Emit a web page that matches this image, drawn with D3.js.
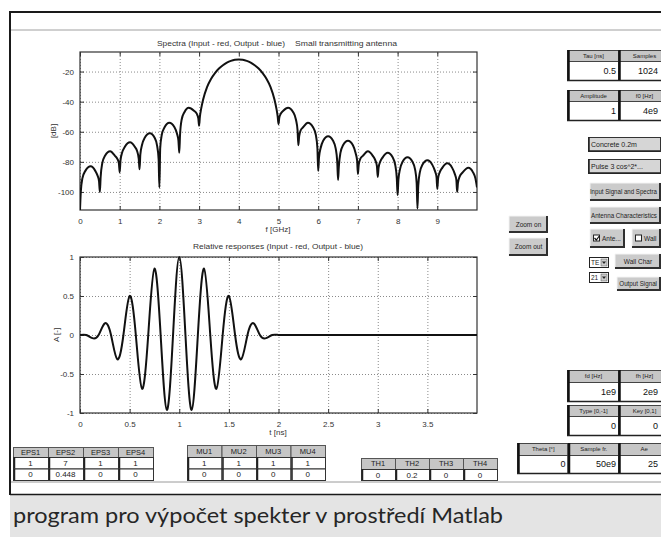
<!DOCTYPE html>
<html><head><meta charset="utf-8">
<script src="https://cdn.jsdelivr.net/npm/d3@7"></script>
<style>
html,body{margin:0;padding:0;background:#fff;}
svg{display:block;}
</style></head><body>
<svg id="c" width="661" height="537" font-family="'Liberation Sans', Arial, sans-serif"></svg>
<script>
// ---------- data ----------
const specTicksX = [0,1,2,3,4,5,6,7,8,9];
const specTicksY = [-100,-80,-60,-40,-20];
const spectrum = [
[0.00,-112],[0.02,-100],[0.06,-91],[0.135,-86],[0.27,-83],[0.385,-86],[0.44,-89],[0.48,-93],[0.50,-100],
[0.52,-90],[0.56,-81],[0.63,-76],[0.76,-73],[0.88,-76],[0.94,-78],[0.98,-81],[1.00,-87],
[1.02,-79],[1.06,-74],[1.13,-70],[1.26,-67],[1.38,-70],[1.44,-73],[1.48,-78],[1.50,-85],
[1.52,-75],[1.56,-69],[1.63,-64],[1.76,-61],[1.88,-64],[1.94,-69],[1.98,-78],[2.00,-97],
[2.02,-71],[2.06,-62],[2.13,-57],[2.25,-54],[2.38,-57],[2.44,-61],[2.48,-66],[2.50,-74],
[2.52,-62],[2.56,-52],[2.63,-47],[2.74,-44],[2.87,-46],[2.94,-48],[2.98,-51],[3.00,-56],
[3.02,-50],[3.05,-45],[3.10,-38.7],[3.20,-30.3],[3.30,-24.9],[3.40,-21],[3.50,-18],[3.60,-15.8],[3.70,-14.1],[3.80,-12.9],[3.90,-12.2],[4.00,-12],
[4.10,-12.2],[4.20,-12.9],[4.30,-14.1],[4.40,-15.8],[4.50,-18],[4.60,-21],[4.70,-24.9],[4.80,-30.3],[4.90,-38.7],[4.95,-45],[4.98,-50],[5.00,-55],
[5.02,-50.6],[5.06,-47.9],[5.12,-46],[5.24,-44],[5.37,-47],[5.44,-52],[5.48,-59],[5.50,-69],
[5.52,-63],[5.56,-59],[5.62,-57],[5.74,-54],[5.87,-57],[5.94,-62],[5.98,-71],[6.00,-86],
[6.02,-77],[6.06,-71],[6.125,-66],[6.25,-63],[6.375,-66],[6.44,-71],[6.48,-80],[6.50,-92],
[6.52,-83],[6.56,-74],[6.625,-69],[6.75,-66],[6.875,-69],[6.94,-74],[6.98,-79],[7.00,-88],
[7.02,-82],[7.06,-78],[7.125,-76],[7.25,-73],[7.375,-76],[7.44,-79],[7.48,-83],[7.50,-90],
[7.52,-84],[7.56,-80],[7.625,-77],[7.75,-74],[7.875,-77],[7.94,-82],[7.98,-91],[8.00,-102],
[8.02,-92],[8.06,-85],[8.125,-80],[8.25,-77],[8.375,-80],[8.44,-85],[8.48,-94],[8.50,-111],
[8.52,-96],[8.56,-87],[8.625,-82],[8.75,-79],[8.875,-82],[8.94,-86],[8.98,-90],[9.00,-98],
[9.02,-91],[9.06,-87],[9.125,-84],[9.25,-81],[9.375,-84],[9.44,-88],[9.48,-92],[9.50,-100],
[9.52,-94],[9.56,-90],[9.64,-87],[9.78,-84],[9.90,-87],[9.96,-91],[10.00,-97]
];
const respTicksX = [0,0.5,1,1.5,2,2.5,3,3.5];
const respTicksY = [-1,-0.5,0,0.5,1];
const response = [
[0,0],[0.0625,0],[0.125,-0.04],[0.1875,0],[0.25,0.15],[0.3125,0],[0.375,-0.31],[0.4375,0],
[0.5,0.5],[0.5625,0],[0.625,-0.69],[0.6875,0],[0.75,0.85],[0.8125,0],[0.875,-0.96],[0.9375,0],
[1.0,1.0],[1.0625,0],[1.125,-0.96],[1.1875,0],[1.25,0.85],[1.3125,0],[1.375,-0.69],[1.4375,0],
[1.5,0.5],[1.5625,0],[1.625,-0.31],[1.6875,0],[1.75,0.15],[1.8125,0],[1.875,-0.04],[1.9375,0],
[2.0,0],[2.0625,0],[2.125,0],[2.25,0],[2.5,0],[3.0,0],[3.5,0],[4.0,0]
];
// UI texts / values
const topGroup1Labels = ["Tau [ns]","Samples"];   const topGroup1Values = ["0.5","1024"];
const topGroup2Labels = ["Amplitude","f0 [Hz]"];  const topGroup2Values = ["1","4e9"];
const midGroup1Labels = ["fd [Hz]","fh [Hz]"];    const midGroup1Values = ["1e9","2e9"];
const midGroup2Labels = ["Type [0,-1]","Key [0,1]"]; const midGroup2Values = ["0","0"];
const botGroupLabels = ["Theta [°]","Sample fr.","Ae"]; const botGroupValues = ["0","50e9","25"];
const epsHeaders = ["EPS1","EPS2","EPS3","EPS4"]; const epsRow1 = ["1","7","1","1"]; const epsRow2 = ["0","0.448","0","0"];
const muHeaders = ["MU1","MU2","MU3","MU4"]; const muRow1 = ["1","1","1","1"]; const muRow2 = ["0","0","0","0"];
const thHeaders = ["TH1","TH2","TH3","TH4"]; const thRow1 = ["0","0.2","0","0"];
const caption = "program pro výpočet spekter v prostředí Matlab";

// ---------- drawing ----------
const svg = d3.select("#c");
const DARK = "#1a1a1a";
const EDGE = 660; // right limit of the picture

// keep a text inside [left, limit]
function fitIn(t, limit){
  const n = t.node(), bb = n.getBBox();
  if (bb.x + bb.width > limit) {
    const anchor = t.attr("text-anchor") || "start";
    if (anchor === "middle") { t.attr("text-anchor","start").attr("x", bb.x); }
    if (anchor === "end") { t.attr("x", limit); }
    else t.attr("textLength", Math.max(4, limit - bb.x)).attr("lengthAdjust","spacingAndGlyphs");
  }
  return t;
}

// window frame
svg.append("rect").attr("x",10).attr("y",495).attr("width",651).attr("height",42).attr("fill","#e4e4e4");
svg.append("line").attr("x1",10).attr("x2",661).attr("y1",12).attr("y2",12).attr("stroke",DARK).attr("stroke-width",2);
svg.append("line").attr("x1",10).attr("x2",10).attr("y1",11).attr("y2",495).attr("stroke",DARK).attr("stroke-width",2);
svg.append("line").attr("x1",10).attr("x2",661).attr("y1",494.5).attr("y2",494.5).attr("stroke",DARK).attr("stroke-width",1.5);
svg.append("line").attr("x1",11).attr("x2",661).attr("y1",30).attr("y2",30).attr("stroke","#a0a0a0").attr("stroke-width",1);
svg.append("line").attr("x1",11).attr("x2",661).attr("y1",482).attr("y2",482).attr("stroke","#9a9a9a").attr("stroke-width",1);
svg.append("text").attr("x",13).attr("y",523).attr("font-family","Lato, 'Open Sans', sans-serif")
  .attr("font-size",21).attr("fill","#262626").attr("textLength",490).attr("lengthAdjust","spacingAndGlyphs").text(caption);

function axesBox(x, y, ticksX, ticksY, fmtX, fmtY) {
  const [x0,x1] = x.range(), [y0,y1] = y.range(); // y0 bottom, y1 top
  const g = svg.append("g");
  g.append("g").attr("transform",`translate(0,${y0})`)
    .call(d3.axisBottom(x).tickValues(ticksX).tickSize(-(y0-y1)).tickFormat(""))
    .call(a=>a.select(".domain").remove())
    .call(a=>a.selectAll("line").attr("stroke","#8a8a8a").attr("stroke-dasharray","1,2"));
  g.append("g").attr("transform",`translate(${x0},0)`)
    .call(d3.axisLeft(y).tickValues(ticksY).tickSize(-(x1-x0)).tickFormat(""))
    .call(a=>a.select(".domain").remove())
    .call(a=>a.selectAll("line").attr("stroke","#8a8a8a").attr("stroke-dasharray","1,2"));
  g.append("rect").attr("x",x0).attr("y",y1).attr("width",x1-x0).attr("height",y0-y1)
    .attr("fill","none").attr("stroke","#333").attr("stroke-width",1.2);
  const bx = g.append("g").attr("transform",`translate(0,${y0})`)
    .call(d3.axisBottom(x).tickValues(ticksX).tickSizeInner(-4).tickSizeOuter(0).tickPadding(8).tickFormat(fmtX));
  const tx = g.append("g").attr("transform",`translate(0,${y1})`)
    .call(d3.axisTop(x).tickValues(ticksX).tickSizeInner(-4).tickSizeOuter(0).tickFormat(""));
  const ly = g.append("g").attr("transform",`translate(${x0},0)`)
    .call(d3.axisLeft(y).tickValues(ticksY).tickSizeInner(-4).tickSizeOuter(0).tickPadding(6).tickFormat(fmtY));
  const ry = g.append("g").attr("transform",`translate(${x1},0)`)
    .call(d3.axisRight(y).tickValues(ticksY).tickSizeInner(-4).tickSizeOuter(0).tickFormat(""));
  [bx,tx,ly,ry].forEach(a=>{
    a.select(".domain").remove();
    a.selectAll("line").attr("stroke","#333");
    a.selectAll("text").attr("font-size",8).attr("fill","#333").attr("font-family","'Liberation Sans',Arial,sans-serif");
  });
  return g;
}

// ---- upper: spectrum ----
const xS = d3.scaleLinear().domain([0,10]).range([80,477]);
const yS = d3.scaleLinear().domain([-112,-7]).range([210,52]);
axesBox(xS, yS, specTicksX, specTicksY, d=>String(d), d=>String(d));
svg.append("clipPath").attr("id","clipS").append("rect").attr("x",80).attr("y",52).attr("width",397).attr("height",158);
svg.append("path").datum(spectrum).attr("clip-path","url(#clipS)")
  .attr("fill","none").attr("stroke","#111").attr("stroke-width",2).attr("stroke-linejoin","round")
  .attr("d", d3.line().x(d=>xS(d[0])).y(d=>yS(d[1])).curve(d3.curveMonotoneX));
svg.append("text").attr("x",157).attr("y",46).attr("font-size",8).attr("fill","#333")
  .attr("textLength",128).attr("lengthAdjust","spacingAndGlyphs").text("Spectra (Input - red, Output - blue)");
svg.append("text").attr("x",295).attr("y",46).attr("font-size",8).attr("fill","#333")
  .attr("textLength",102).attr("lengthAdjust","spacingAndGlyphs").text("Small transmitting antenna");
svg.append("text").attr("x",278).attr("y",232).attr("text-anchor","middle").attr("font-size",8).attr("fill","#333").text("f [GHz]");
svg.append("text").attr("transform","translate(56,131) rotate(-90)").attr("text-anchor","middle").attr("font-size",8).attr("fill","#333").text("[dB]");

// ---- lower: response ----
const xR = d3.scaleLinear().domain([0,4]).range([80,477]);
const yR = d3.scaleLinear().domain([-1,1]).range([413,257]);
axesBox(xR, yR, respTicksX, respTicksY, d=>String(d), d=>String(d));
svg.append("clipPath").attr("id","clipR").append("rect").attr("x",80).attr("y",255).attr("width",397).attr("height",160);
svg.append("path").datum(response).attr("clip-path","url(#clipR)")
  .attr("fill","none").attr("stroke","#111").attr("stroke-width",2).attr("stroke-linejoin","round")
  .attr("d", d3.line().x(d=>xR(d[0])).y(d=>yR(d[1])).curve(d3.curveNatural));
svg.append("text").attr("x",278).attr("y",249).attr("text-anchor","middle").attr("font-size",8).attr("fill","#333")
  .attr("textLength",170).attr("lengthAdjust","spacingAndGlyphs").text("Relative responses (Input - red, Output - blue)");
svg.append("text").attr("x",278).attr("y",435).attr("text-anchor","middle").attr("font-size",8).attr("fill","#333").text("t [ns]");
svg.append("text").attr("transform","translate(59,335) rotate(-90)").attr("text-anchor","middle").attr("font-size",8).attr("fill","#333").text("A [-]");

// ---- UI controls ----
const ui = svg.append("g");
function button(x,y,w,h,label,fs){
  const g = ui.append("g");
  g.append("rect").attr("x",x).attr("y",y).attr("width",w).attr("height",h).attr("fill","#cbcbcb");
  g.append("path").attr("d",`M${x},${y+h} V${y} H${x+w}`).attr("fill","none").attr("stroke","#f4f4f4").attr("stroke-width",1);
  g.append("path").attr("d",`M${x},${y+h-1} H${x+w-1} V${y}`).attr("fill","none").attr("stroke","#303030").attr("stroke-width",2);
  if(label) fitIn(g.append("text").attr("x",x+w/2).attr("y",y+h/2+2.3).attr("text-anchor","middle")
    .attr("font-size",fs||6.5).attr("fill","#222").text(label), Math.min(x+w-3, EDGE-3));
  return g;
}
function popup(x,y,w,h,label){
  const g = ui.append("g");
  g.append("rect").attr("x",x+0.5).attr("y",y+0.5).attr("width",w).attr("height",h).attr("fill","#d6d6d6").attr("stroke","#333");
  g.append("line").attr("x1",x+1).attr("x2",x+1).attr("y1",y).attr("y2",y+h).attr("stroke","#222").attr("stroke-width",1.5);
  g.append("line").attr("x1",x).attr("x2",x+w).attr("y1",y+h).attr("y2",y+h).attr("stroke","#222").attr("stroke-width",1.5);
  fitIn(g.append("text").attr("x",x+3).attr("y",y+h/2+2.5).attr("font-size",7).attr("fill","#222").text(label), Math.min(x+w-3, EDGE-3));
}
function smallPopup(x,y,w,h,label){
  const g = ui.append("g");
  g.append("rect").attr("x",x+0.5).attr("y",y+0.5).attr("width",w).attr("height",h).attr("fill","#fff").attr("stroke","#222");
  g.append("rect").attr("x",x+w-7).attr("y",y+2).attr("width",6).attr("height",h-3).attr("fill","#cbcbcb").attr("stroke","#555").attr("stroke-width",0.5);
  g.append("path").attr("d",`M${x+w-6},${y+h/2-0.5} h4 l-2,2.5 z`).attr("fill","#222");
  g.append("text").attr("x",x+2).attr("y",y+h/2+2.5).attr("font-size",6.5).attr("fill","#222").text(label);
}
function checkButton(x,y,w,h,label,checked){
  button(x,y,w,h,null);
  const g = ui.append("g");
  g.append("rect").attr("x",x+3.5).attr("y",y+h/2-3.5).attr("width",6).attr("height",6).attr("fill","#fff").attr("stroke","#222");
  if(checked) g.append("path").attr("d",`M${x+4.5},${y+h/2-0.5} l1.8,2 l3,-4`).attr("fill","none").attr("stroke","#111").attr("stroke-width",1.2);
  fitIn(g.append("text").attr("x",x+12).attr("y",y+h/2+2.5).attr("font-size",6.5).attr("fill","#222").text(label), Math.min(x+w-2, EDGE-3));
}
function editGroup(x0, colW, yL, hL, hV, labels, values){
  const g = ui.append("g");
  labels.forEach((lab,i)=>{
    const x = x0 + i*colW;
    g.append("rect").attr("x",x+0.5).attr("y",yL+0.5).attr("width",colW).attr("height",hL).attr("fill","#c6c6c6").attr("stroke","#444");
    g.append("rect").attr("x",x+0.5).attr("y",yL+hL+0.5).attr("width",colW).attr("height",hV).attr("fill","#fff").attr("stroke","#444");
    g.append("line").attr("x1",x+1.5).attr("x2",x+1.5).attr("y1",yL).attr("y2",yL+hL+hV+1).attr("stroke","#111").attr("stroke-width",2.5);
    g.append("line").attr("x1",x).attr("x2",x+colW).attr("y1",yL+hL+hV+0.5).attr("y2",yL+hL+hV+0.5).attr("stroke","#222").attr("stroke-width",1.5);
    fitIn(g.append("text").attr("x",x+colW/2+1).attr("y",yL+hL/2+2.3).attr("text-anchor","middle").attr("font-size",6).attr("fill","#222").text(lab), EDGE-2);
    g.append("text").attr("x",Math.min(x+colW-2, EDGE-2)).attr("y",yL+hL+hV/2+3.3).attr("text-anchor","end").attr("font-size",9).attr("fill","#111").text(values[i]);
  });
}
function table(x0, colW, y0, hH, hR, headers, rows){
  const g = ui.append("g");
  headers.forEach((h,i)=>{
    const x = x0 + i*colW;
    g.append("rect").attr("x",x+0.5).attr("y",y0+0.5).attr("width",colW).attr("height",hH).attr("fill","#c6c6c6").attr("stroke","#555");
    g.append("text").attr("x",x+colW/2).attr("y",y0+hH/2+2.8).attr("text-anchor","middle").attr("font-size",7.5).attr("fill","#222").text(h);
    rows.forEach((r,j)=>{
      const y = y0 + hH + j*hR;
      g.append("rect").attr("x",x+0.5).attr("y",y+0.5).attr("width",colW).attr("height",hR).attr("fill","#fff").attr("stroke","#333");
      g.append("line").attr("x1",x+1.5).attr("x2",x+1.5).attr("y1",y).attr("y2",y+hR).attr("stroke","#222").attr("stroke-width",1.5);
      g.append("text").attr("x",x+colW/2).attr("y",y+hR/2+3).attr("text-anchor","middle").attr("font-size",8).attr("fill","#222").text(r[i]);
    });
  });
}

editGroup(567, 51, 50, 11, 19, topGroup1Labels, topGroup1Values);
editGroup(567, 51, 90, 11, 19, topGroup2Labels, topGroup2Values);
popup(588, 137, 72, 14, "Concrete 0.2m");
popup(588, 159, 72, 14, "Pulse 3  cos^2*...");
button(590, 183, 71, 18, "Input Signal and Spectra");
button(590, 207, 71, 17, "Antenna Characteristics");
checkButton(590, 229, 35, 19, "Ante...", true);
checkButton(632, 229, 29, 19, "Wall", false);
smallPopup(589, 257, 19, 10, "TE");
smallPopup(589, 272, 19, 10, "21");
button(615, 254, 46, 15, "Wall Char");
button(617, 277, 44, 14, "Output Signal");
button(509, 216, 39, 17, "Zoom on");
button(509, 238, 39, 18, "Zoom out");
editGroup(567, 51, 370, 12, 19, midGroup1Labels, midGroup1Values);
editGroup(567, 51, 405, 11, 19, midGroup2Labels, midGroup2Values);
editGroup(517, 50.5, 443, 12, 18, botGroupLabels, botGroupValues);

table(13, 35, 447, 10, 11.5, epsHeaders, [epsRow1, epsRow2]);
table(187, 34.5, 445, 12, 11.5, muHeaders, [muRow1, muRow2]);
table(361, 34, 458, 11, 11, thHeaders, [thRow1]);
</script>
</body></html>
